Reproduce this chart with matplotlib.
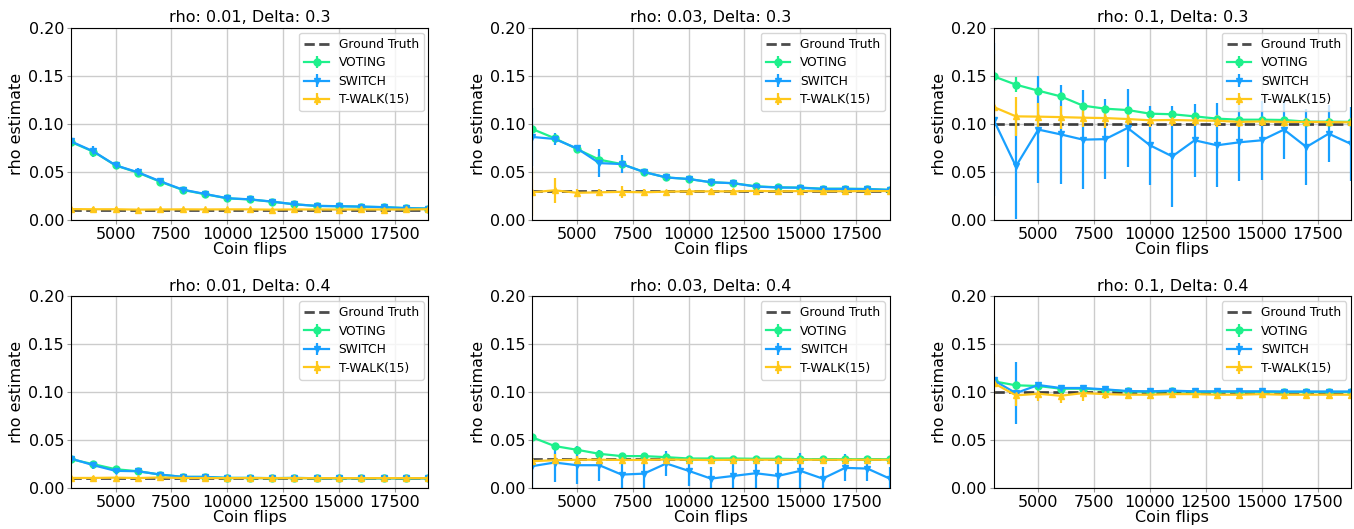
import numpy as np
from matplotlib import pyplot as plt

# coin flips on the x axis
flips = [3000, 4000, 5000, 6000, 7000, 8000, 9000, 10000, 11000,
         12000, 13000, 14000, 15000, 16000, 17000, 18000, 19000]

rhos = [0.01, 0.03, 0.1]
deltas = [0.3, 0.4]

# rho: 0.01, Delta: 0.3
voting_01_3 = [0.081, 0.071, 0.0565, 0.049, 0.0395, 0.031, 0.0265, 0.0222, 0.021, 0.0187,
               0.016, 0.0143, 0.014, 0.0135, 0.013, 0.012, 0.0115]
voting_err_01_3 = [0.004, 0.004, 0.003, 0.003, 0.003, 0.002, 0.002, 0.002, 0.002, 0.002,
                   0.001, 0.001, 0.001, 0.001, 0.001, 0.001, 0.001]
switch_01_3 = [0.0817, 0.0713, 0.0567, 0.0494, 0.040, 0.0313, 0.0268, 0.0223, 0.0212, 0.0188,
               0.016, 0.0143, 0.014, 0.0136, 0.013, 0.012, 0.0115]
switch_err_01_3 = [0.005, 0.006, 0.003, 0.004, 0.003, 0.002, 0.002, 0.002, 0.002, 0.002,
                   0.001, 0.001, 0.001, 0.001, 0.001, 0.001, 0.001]
twalk_01_3 = [0.011, 0.0108, 0.0108, 0.0104, 0.0106, 0.0107, 0.0106, 0.0107, 0.0107, 0.0104,
              0.0106, 0.0106, 0.0105, 0.0106, 0.0105, 0.0106, 0.0108]
twalk_err_01_3 = [0.006, 0.002, 0.002, 0.001, 0.001, 0.001, 0.001, 0.001, 0.001, 0.001,
                  0.001, 0.001, 0.001, 0.001, 0.001, 0.001, 0.001]

# rho: 0.03, Delta: 0.3
voting_03_3 = [0.0946, 0.085, 0.0737, 0.0626, 0.058, 0.0497, 0.044, 0.0424, 0.039, 0.038,
               0.0348, 0.0337, 0.0334, 0.0323, 0.0323, 0.032, 0.031]
voting_err_03_3 = [0.004, 0.004, 0.004, 0.006, 0.003, 0.002, 0.003, 0.002, 0.002, 0.002,
                   0.001, 0.001, 0.001, 0.001, 0.001, 0.001, 0.001]
switch_03_3 = [0.0863, 0.0842, 0.0744, 0.059, 0.058, 0.0497, 0.044, 0.0424, 0.039, 0.038,
               0.0345, 0.0335, 0.0333, 0.032, 0.032, 0.0318, 0.031]
switch_err_03_3 = [0.03, 0.006, 0.004, 0.015, 0.009, 0.002, 0.004, 0.003, 0.002, 0.002,
                   0.002, 0.001, 0.001, 0.001, 0.001, 0.001, 0.001]
twalk_03_3 = [0.0285, 0.0306, 0.028, 0.0285, 0.029, 0.0285, 0.0292, 0.0295, 0.0295, 0.0295,
              0.030, 0.0295, 0.0298, 0.0296, 0.0296, 0.0298, 0.0298]
twalk_err_03_3 = [0.025, 0.013, 0.004, 0.003, 0.006, 0.003, 0.002, 0.002, 0.002, 0.002,
                  0.002, 0.001, 0.001, 0.001, 0.001, 0.001, 0.001]

# rho: 0.1, Delta: 0.3
voting_1_3 = [0.1496, 0.1409, 0.1346, 0.1287, 0.119, 0.1158, 0.1144, 0.1106, 0.110, 0.1078,
              0.1054, 0.1043, 0.1043, 0.104, 0.1023, 0.1023, 0.102]
voting_err_1_3 = [0.005, 0.008, 0.004, 0.004, 0.003, 0.003, 0.003, 0.002, 0.002, 0.002,
                  0.002, 0.002, 0.002, 0.002, 0.001, 0.001, 0.001]
switch_1_3 = [0.1043, 0.0557, 0.094, 0.089, 0.0835, 0.084, 0.0957, 0.0776, 0.066, 0.0828,
              0.0776, 0.0807, 0.0828, 0.094, 0.0758, 0.0897, 0.079]
switch_err_1_3 = [0.08, 0.055, 0.056, 0.052, 0.052, 0.042, 0.041, 0.041, 0.053, 0.038,
                  0.044, 0.040, 0.041, 0.031, 0.040, 0.030, 0.039]
twalk_1_3 = [0.1176, 0.1078, 0.1075, 0.107, 0.1064, 0.106, 0.105, 0.1037, 0.104, 0.1035,
             0.1032, 0.102, 0.1025, 0.102, 0.102, 0.1018, 0.1016]
twalk_err_1_3 = [0.055, 0.02, 0.014, 0.012, 0.01, 0.01, 0.008, 0.007, 0.006, 0.006,
                 0.006, 0.005, 0.005, 0.005, 0.004, 0.004, 0.004]

# rho: 0.01, Delta: 0.4
voting_01_4 = [0.030, 0.0249, 0.0196, 0.0175, 0.014, 0.0116, 0.0116, 0.0105, 0.0105, 0.0103,
               0.0105, 0.0102, 0.0101, 0.0101, 0.0101, 0.0101, 0.0101]
voting_err_01_4 = [0.002, 0.002, 0.002, 0.001, 0.001, 0.001, 0.001, 0.001, 0.001, 0.001,
                   0.001, 0.001, 0.001, 0.001, 0.001, 0.001, 0.001]
switch_01_4 = [0.0308, 0.0238, 0.0179, 0.0175, 0.014, 0.0116, 0.0116, 0.0105, 0.0105, 0.0103,
               0.0105, 0.0102, 0.0101, 0.0101, 0.0101, 0.0101, 0.0101]
switch_err_01_4 = [0.003, 0.004, 0.003, 0.002, 0.001, 0.001, 0.001, 0.001, 0.001, 0.001,
                   0.001, 0.001, 0.001, 0.001, 0.001, 0.001, 0.001]
twalk_01_4 = [0.0105, 0.0105, 0.0108, 0.0104, 0.011, 0.0104, 0.0104, 0.0103, 0.0104, 0.0103,
              0.0103, 0.0103, 0.0103, 0.0103, 0.0103, 0.0103, 0.0103]
twalk_err_01_4 = [0.008, 0.002, 0.001, 0.001, 0.001, 0.001, 0.001, 0.001, 0.001, 0.001,
                  0.001, 0.001, 0.001, 0.001, 0.001, 0.001, 0.001]

# rho: 0.03, Delta: 0.4
voting_03_4 = [0.0529, 0.0438, 0.0399, 0.0357, 0.0333, 0.0333, 0.0322, 0.0308, 0.0308, 0.0308,
               0.0305, 0.0305, 0.0301, 0.0301, 0.0301, 0.0301, 0.0301]
voting_err_03_4 = [0.002, 0.003, 0.002, 0.002, 0.002, 0.002, 0.002, 0.001, 0.001, 0.001,
                   0.001, 0.001, 0.001, 0.001, 0.001, 0.001, 0.001]
switch_03_4 = [0.0228, 0.0266, 0.0238, 0.0238, 0.014, 0.015, 0.0256, 0.0179, 0.0098, 0.0126,
               0.0154, 0.0126, 0.0179, 0.0098, 0.021, 0.0203, 0.0098]
switch_err_03_4 = [0.025, 0.02, 0.02, 0.016, 0.016, 0.015, 0.013, 0.016, 0.012, 0.013,
                   0.015, 0.015, 0.019, 0.012, 0.014, 0.013, 0.012]
twalk_03_4 = [0.028, 0.029, 0.0295, 0.0295, 0.0293, 0.0293, 0.0297, 0.0295, 0.0292, 0.0295,
              0.0295, 0.0295, 0.0295, 0.0295, 0.0295, 0.0295, 0.0295]
twalk_err_03_4 = [0.008, 0.006, 0.004, 0.003, 0.003, 0.002, 0.002, 0.002, 0.002, 0.002,
                  0.001, 0.001, 0.001, 0.001, 0.001, 0.001, 0.001]

# rho: 0.1, Delta: 0.4
voting_1_4 = [0.1114, 0.1072, 0.1065, 0.1037, 0.1037, 0.1026, 0.1009, 0.1005, 0.1012, 0.1005,
              0.1005, 0.1005, 0.1005, 0.1003, 0.1003, 0.1003, 0.1003]
voting_err_1_4 = [0.004, 0.004, 0.003, 0.002, 0.002, 0.002, 0.002, 0.001, 0.001, 0.001,
                  0.001, 0.001, 0.001, 0.001, 0.001, 0.001, 0.001]
switch_1_4 = [0.1124, 0.0991, 0.1075, 0.1044, 0.1044, 0.103, 0.1012, 0.1009, 0.1016, 0.1009,
              0.1009, 0.1009, 0.1009, 0.1007, 0.1007, 0.1007, 0.1007]
switch_err_1_4 = [0.004, 0.032, 0.003, 0.002, 0.002, 0.002, 0.002, 0.001, 0.001, 0.001,
                  0.001, 0.001, 0.001, 0.001, 0.001, 0.001, 0.001]
twalk_1_4 = [0.1096, 0.0967, 0.0984, 0.0963, 0.0991, 0.098, 0.0974, 0.0974, 0.098, 0.098,
             0.0974, 0.0974, 0.098, 0.0974, 0.0974, 0.0974, 0.0974]
twalk_err_1_4 = [0.03, 0.011, 0.008, 0.008, 0.008, 0.005, 0.005, 0.004, 0.004, 0.004,
                 0.004, 0.004, 0.004, 0.004, 0.004, 0.004, 0.004]

panels = {
    (0.01, 0.3): (voting_01_3, voting_err_01_3, switch_01_3, switch_err_01_3, twalk_01_3, twalk_err_01_3),
    (0.03, 0.3): (voting_03_3, voting_err_03_3, switch_03_3, switch_err_03_3, twalk_03_3, twalk_err_03_3),
    (0.1, 0.3): (voting_1_3, voting_err_1_3, switch_1_3, switch_err_1_3, twalk_1_3, twalk_err_1_3),
    (0.01, 0.4): (voting_01_4, voting_err_01_4, switch_01_4, switch_err_01_4, twalk_01_4, twalk_err_01_4),
    (0.03, 0.4): (voting_03_4, voting_err_03_4, switch_03_4, switch_err_03_4, twalk_03_4, twalk_err_03_4),
    (0.1, 0.4): (voting_1_4, voting_err_1_4, switch_1_4, switch_err_1_4, twalk_1_4, twalk_err_1_4),
}

c_voting = '#1ef08c'
c_switch = '#18a0ff'
c_twalk = '#ffc81a'

fig, axes = plt.subplots(2, 3, figsize=(13.54, 5.29), dpi=100)
fig.subplots_adjust(left=0.0524, right=0.9978, top=0.947, bottom=0.0775,
                    wspace=0.2905, hspace=0.401)

for row, delta in enumerate(deltas):
    for col, rho in enumerate(rhos):
        ax = axes[row, col]
        v, ve, s, se, t, te = panels[(rho, delta)]
        ax.plot([flips[0], flips[-1]], [rho, rho], '--', color='black', alpha=0.7,
                lw=2, label='Ground Truth')
        ax.errorbar(flips, v, yerr=ve, color=c_voting, marker='o', ms=5, lw=1.6,
                    label='VOTING')
        ax.errorbar(flips, s, yerr=se, color=c_switch, marker='v', ms=5, lw=1.6,
                    label='SWITCH')
        ax.errorbar(flips, t, yerr=te, color=c_twalk, marker='^', ms=5, lw=1.6,
                    label='T-WALK(15)')
        ax.set_xlim(3000, 19000)
        ax.set_ylim(0, 0.2)
        ax.set_xticks([5000, 7500, 10000, 12500, 15000, 17500])
        ax.set_yticks([0.0, 0.05, 0.1, 0.15, 0.2])
        ax.set_yticklabels(['0.00', '0.05', '0.10', '0.15', '0.20'])
        ax.tick_params(labelsize=11.5, length=3, pad=2, color='#999999')
        ax.grid(True, color='#cccccc', lw=1)
        ax.set_xlabel('Coin flips', fontsize=11.5, labelpad=0)
        ax.set_ylabel('rho estimate', fontsize=11.5, labelpad=3)
        ax.set_title(f'rho: {rho}, Delta: {delta}', fontsize=11.5, pad=4)
        ax.legend(loc='upper right', fontsize=8.8, borderaxespad=0.4,
                  labelspacing=0.45, handlelength=2.0)

fig.savefig('out.png')
